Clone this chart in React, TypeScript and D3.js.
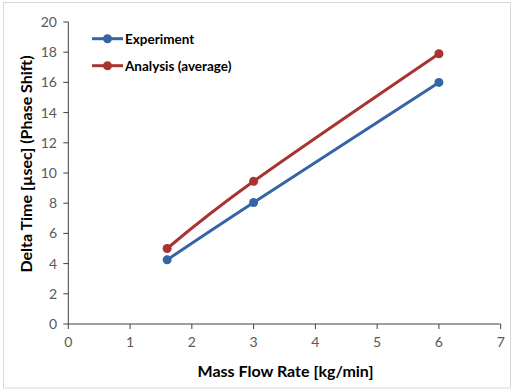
import React from "react";
import * as d3 from "d3";

const xTicks = [0, 1, 2, 3, 4, 5, 6, 7];
const yTicks = [0, 2, 4, 6, 8, 10, 12, 14, 16, 18, 20];
const flowRates = [1.6, 3, 6];
const experiment = [4.25, 8.05, 16.0];
const analysis = [5.0, 9.45, 17.9];
const seriesNames = ["Experiment", "Analysis (average)"];
const seriesColors = ["#3565A5", "#A83432"];

const W = 517;
const H = 392;
const FONT = "Lato, 'Open Sans', sans-serif";

export default function App() {
  const x = d3.scaleLinear().domain([0, 7]).range([68.3, 500.7]);
  const y = d3.scaleLinear().domain([0, 20]).range([324, 22]);
  const line = d3
    .line<[number, number]>()
    .x((d) => x(d[0]))
    .y((d) => y(d[1]))
    .curve(d3.curveCardinal.tension(0));
  const series = [experiment, analysis];

  return (
    <svg
      width={W}
      height={H}
      style={{ position: "absolute", left: 0, top: 0 }}
      fontFamily={FONT}
    >
      <rect x={0} y={0} width={W} height={H} fill="#fff" />
      <rect x={3.5} y={2.5} width={507} height={385.5} fill="#fff" stroke="#d9d9d9" strokeWidth={1} />
      {/* y axis */}
      <line x1={x(0)} x2={x(0)} y1={y(20)} y2={y(0)} stroke="#404040" strokeWidth={1} />
      {yTicks.map((t) => (
        <g key={"y" + t}>
          <line x1={x(0) - 5} x2={x(0)} y1={y(t)} y2={y(t)} stroke="#404040" />
          <text x={57} y={y(t)} dy="0.35em" textAnchor="end" fontSize={14} fill="#595959">
            {t}
          </text>
        </g>
      ))}
      {/* x axis */}
      <line x1={x(0)} x2={x(7)} y1={y(0)} y2={y(0)} stroke="#404040" strokeWidth={1} />
      {xTicks.map((t) => (
        <g key={"x" + t}>
          <line x1={x(t)} x2={x(t)} y1={y(0)} y2={y(0) + 5} stroke="#404040" />
          <text x={x(t)} y={347} textAnchor="middle" fontSize={14} fill="#595959">
            {t}
          </text>
        </g>
      ))}
      {/* axis titles */}
      <text x={285.5} y={377} textAnchor="middle" fontSize={16} fontWeight="bold" fill="#000">
        Mass Flow Rate [kg/min]
      </text>
      <text
        transform={`translate(31.5,164) rotate(-90)`}
        textAnchor="middle"
        fontSize={16}
        fontWeight="bold"
        fill="#000"
      >
        Delta Time [µsec] (Phase Shift)
      </text>
      {/* series */}
      {series.map((vals, i) => {
        const pts: [number, number][] = flowRates.map((f, j) => [f, vals[j]]);
        return (
          <g key={"s" + i}>
            <path d={line(pts) || ""} fill="none" stroke={seriesColors[i]} strokeWidth={3} />
            {pts.map((p, j) => (
              <circle key={j} cx={x(p[0])} cy={y(p[1])} r={4.5} fill={seriesColors[i]} />
            ))}
          </g>
        );
      })}
      {/* legend */}
      {seriesNames.map((name, i) => {
        const ly = 38.7 + i * 27;
        return (
          <g key={"l" + i}>
            <line x1={92} x2={123} y1={ly} y2={ly} stroke={seriesColors[i]} strokeWidth={3} />
            <circle cx={107.5} cy={ly} r={4.5} fill={seriesColors[i]} />
            <text x={125} y={ly} dy="0.36em" fontSize={13.5} fontWeight="bold" fill="#000">
              {name}
            </text>
          </g>
        );
      })}
    </svg>
  );
}
